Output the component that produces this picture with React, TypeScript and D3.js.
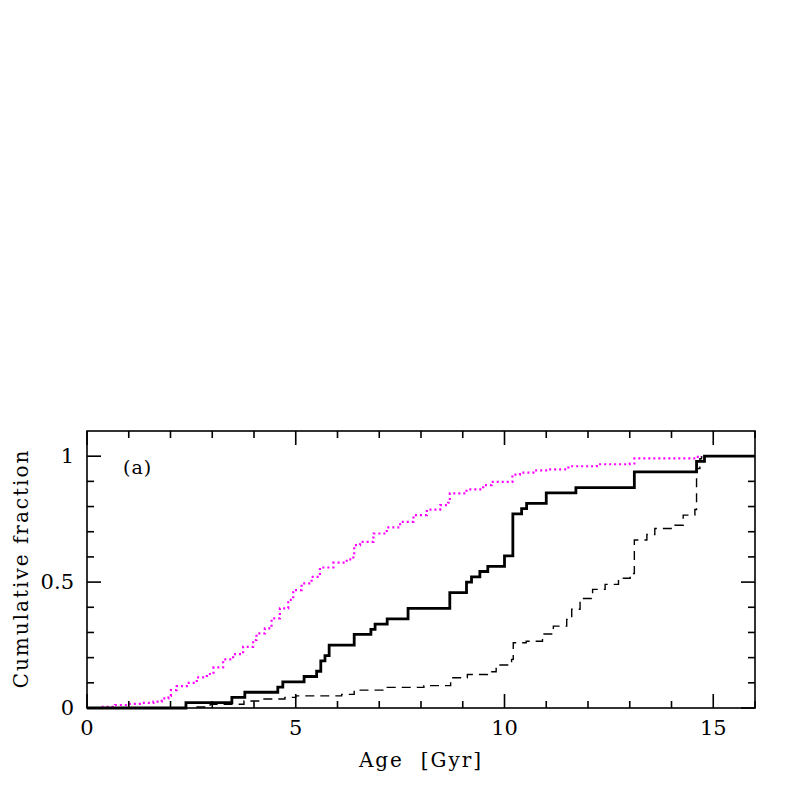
import React, { useEffect, useRef } from 'react';
import * as d3 from 'd3';

// cumulative step curves: age in Gyr, fraction
const solidAges = [0, 2.37, 3.47, 3.78, 4.57, 4.69, 5.2, 5.5, 5.6, 5.7, 5.8, 6.4, 6.8, 6.9, 7.19, 7.69, 8.69, 9.09, 9.21, 9.41, 9.6, 10.0, 10.2, 10.41, 10.53, 11.0, 11.71, 13.11, 14.6, 14.79, 16];
const solidFrac = [0, 0.021, 0.042, 0.0625, 0.083, 0.104, 0.125, 0.146, 0.1875, 0.208, 0.25, 0.292, 0.3125, 0.333, 0.354, 0.396, 0.458, 0.5, 0.521, 0.542, 0.5625, 0.604, 0.771, 0.792, 0.8125, 0.854, 0.875, 0.9375, 0.979, 1.0, 1.0];

const dashedAges = [2.62, 2.95, 3.76, 4.19, 4.74, 5.0, 6.1, 6.4, 7.19, 8.07, 8.71, 9.11, 9.59, 9.8, 10.17, 10.21, 10.52, 10.91, 11.17, 11.49, 11.61, 11.81, 12.11, 12.41, 12.73, 13.01, 13.11, 13.41, 13.6, 14.08, 14.28, 14.56, 14.6, 14.68, 14.72];
const dashedFrac = [0.004, 0.015, 0.028, 0.036, 0.042, 0.048, 0.054, 0.071, 0.082, 0.089, 0.12, 0.133, 0.144, 0.171, 0.193, 0.259, 0.265, 0.294, 0.325, 0.352, 0.392, 0.435, 0.471, 0.491, 0.515, 0.534, 0.667, 0.689, 0.713, 0.726, 0.766, 0.788, 0.951, 0.99, 1.0];

const dottedAges = [0.35, 0.67, 0.99, 1.31, 1.59, 1.79, 1.95, 2.01, 2.15, 2.39, 2.63, 2.87, 3.03, 3.26, 3.5, 3.74, 3.98, 4.06, 4.26, 4.42, 4.62, 4.82, 4.94, 5.14, 5.38, 5.58, 5.9, 6.22, 6.38, 6.4, 6.54, 6.86, 7.18, 7.5, 7.82, 8.14, 8.46, 8.65, 8.69, 9.09, 9.49, 9.69, 10.19, 10.37, 10.69, 11.05, 11.53, 12.21, 13.0, 13.11, 14.6, 14.72];
const dottedFrac = [0.005, 0.012, 0.016, 0.02, 0.025, 0.038, 0.048, 0.071, 0.087, 0.1, 0.122, 0.135, 0.161, 0.193, 0.214, 0.243, 0.27, 0.296, 0.316, 0.356, 0.396, 0.429, 0.468, 0.495, 0.521, 0.558, 0.577, 0.59, 0.603, 0.647, 0.66, 0.693, 0.717, 0.739, 0.766, 0.788, 0.806, 0.815, 0.852, 0.868, 0.885, 0.898, 0.927, 0.935, 0.944, 0.948, 0.96, 0.968, 0.971, 0.991, 0.997, 1.0];

const xMajor = [0, 5, 10, 15];
const yMajor = [0, 0.5, 1];
const yLabels = ['0', '0.5', '1'];

function App() {
  const ref = useRef<SVGSVGElement>(null);

  const left = 87, right = 755, top = 431, bottom = 708;
  const font = '"DejaVu Serif", serif';

  useEffect(() => {
    const svg = d3.select(ref.current);
    svg.selectAll('*').remove();

    const x = d3.scaleLinear().domain([0, 16]).range([left, right]);
    const y = d3.scaleLinear().domain([0, 1.1]).range([bottom, top]);

    const drawStep = (ages: number[], fr: number[]) =>
      d3.line<number>()
        .x((d) => x(ages[d]))
        .y((d) => y(fr[d]))
        .curve(d3.curveStepAfter)(d3.range(ages.length));

    const plot = svg.append('g');

    plot.append('path')
      .attr('d', drawStep(dottedAges, dottedFrac))
      .attr('fill', 'none')
      .attr('stroke', '#ff00ff')
      .attr('stroke-width', 2.2)
      .attr('stroke-dasharray', '2,3');

    plot.append('path')
      .attr('d', drawStep(dashedAges, dashedFrac))
      .attr('fill', 'none')
      .attr('stroke', '#000')
      .attr('stroke-width', 1.4)
      .attr('stroke-dasharray', '9,6');

    plot.append('path')
      .attr('d', drawStep(solidAges, solidFrac))
      .attr('fill', 'none')
      .attr('stroke', '#000')
      .attr('stroke-width', 2.8);

    // frame
    svg.append('rect')
      .attr('x', left).attr('y', top)
      .attr('width', right - left).attr('height', bottom - top)
      .attr('fill', 'none').attr('stroke', '#000').attr('stroke-width', 1.6);

    // ticks on all four sides
    const ticks = svg.append('g').attr('stroke', '#000').attr('stroke-width', 1.6);
    d3.range(0, 17).forEach((v) => {
      const len = v % 5 === 0 ? 14 : 7;
      ticks.append('line').attr('x1', x(v)).attr('x2', x(v)).attr('y1', bottom).attr('y2', bottom - len);
      ticks.append('line').attr('x1', x(v)).attr('x2', x(v)).attr('y1', top).attr('y2', top + len);
    });
    d3.range(0, 11).forEach((k) => {
      const v = k / 10;
      const len = k % 5 === 0 ? 14 : 7;
      ticks.append('line').attr('y1', y(v)).attr('y2', y(v)).attr('x1', left).attr('x2', left + len);
      ticks.append('line').attr('y1', y(v)).attr('y2', y(v)).attr('x1', right).attr('x2', right - len);
    });

    svg.append('g').selectAll('text').data(xMajor).enter().append('text')
      .attr('x', (d) => x(d)).attr('y', 735)
      .attr('text-anchor', 'middle')
      .style('font-family', font).style('font-size', '21px')
      .text((d) => d);

    svg.append('g').selectAll('text').data(yMajor).enter().append('text')
      .attr('x', 74).attr('y', (d) => y(d) + 7)
      .attr('text-anchor', 'end')
      .style('font-family', font).style('font-size', '21px')
      .text((d, i) => yLabels[i]);

    svg.append('text')
      .attr('x', 421).attr('y', 767)
      .attr('text-anchor', 'middle')
      .style('font-family', font).style('font-size', '20px')
      .style('letter-spacing', '2px')
      .style('white-space', 'pre')
      .text('Age  [Gyr]');

    svg.append('text')
      .attr('transform', `translate(28, ${(top + bottom) / 2 - 1}) rotate(-90)`)
      .attr('text-anchor', 'middle')
      .style('font-family', font).style('font-size', '20px')
      .style('letter-spacing', '2px')
      .text('Cumulative fraction');

    svg.append('text')
      .attr('x', 123).attr('y', 474)
      .style('font-family', font).style('font-size', '19px')
      .style('letter-spacing', '1px')
      .text('(a)');
  }, []);

  return (
    <svg ref={ref} width={797} height={797}
      style={{ position: 'absolute', left: 0, top: 0, background: '#fff' }} />
  );
}

export default App;
